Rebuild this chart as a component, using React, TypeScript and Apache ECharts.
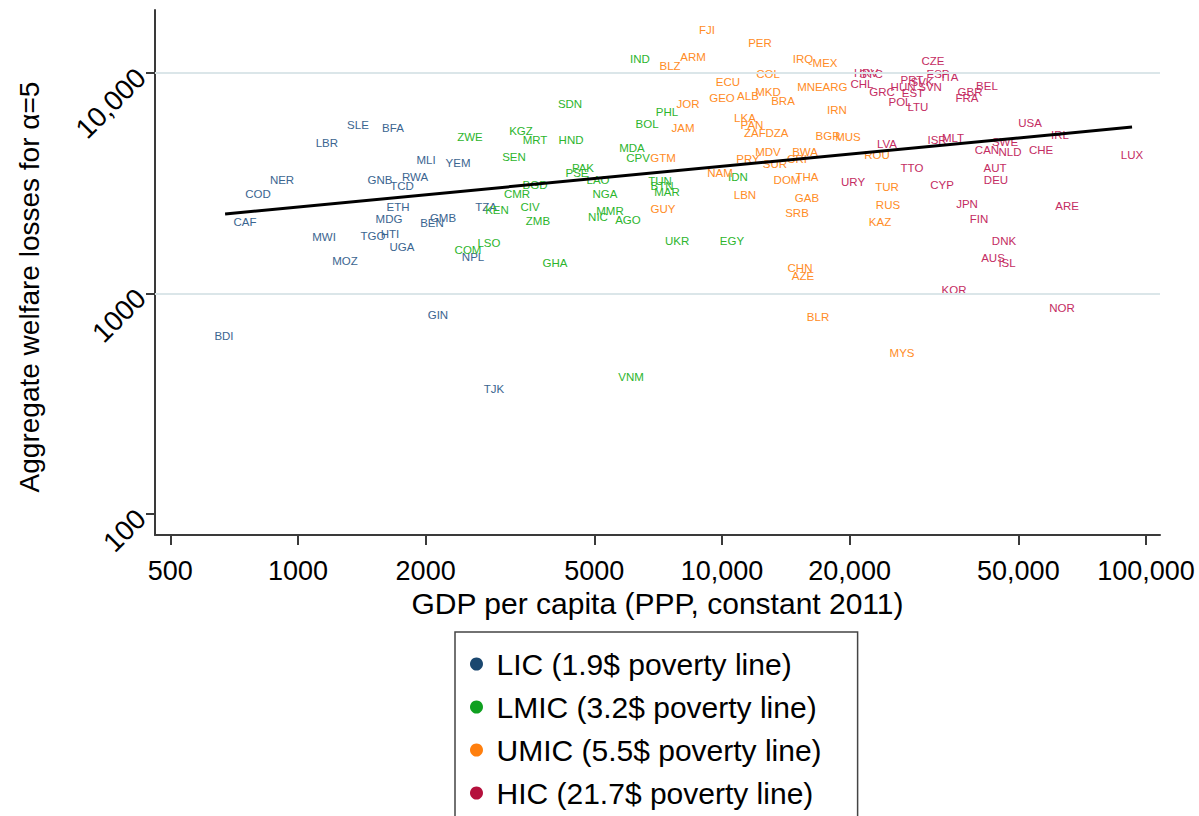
import React, { useEffect, useRef } from "react";
import * as echarts from "echarts";

const FONT = "'Liberation Sans', Arial, Helvetica, sans-serif";

// Income groups
const groupNames = [
  "LIC (1.9$ poverty line)",
  "LMIC (3.2$ poverty line)",
  "UMIC (5.5$ poverty line)",
  "HIC (21.7$ poverty line)",
];
const dotColors = ["#1a476f", "#0fa020", "#ff7f0e", "#b5103c"];
const labelColors = ["#3b6590", "#2db52d", "#ff8c26", "#c42c62"];

// LIC
const licNames = ["BDI", "CAF", "COD", "NER", "LBR", "SLE", "BFA", "MWI", "MOZ", "GNB", "RWA", "TCD", "MLI", "YEM", "ETH", "MDG", "TGO", "HTI", "UGA", "BEN", "GMB", "GIN", "TJK", "TZA", "NPL"];
const licGdp = [669, 750, 805, 917, 1170, 1385, 1675, 1152, 1291, 1561, 1888, 1759, 2004, 2385, 1721, 1639, 1503, 1648, 1759, 2070, 2198, 2138, 2900, 2776, 2587];
const licLoss = [641, 2110, 2826, 3272, 4815, 5808, 5630, 1804, 1404, 3272, 3374, 3073, 4032, 3907, 2468, 2177, 1823, 1861, 1625, 2088, 2200, 799, 369, 2468, 1464];

// LMIC
const lmicNames = ["COM", "LSO", "ZWE", "KGZ", "MRT", "SEN", "HND", "SDN", "CMR", "KEN", "CIV", "ZMB", "GHA", "BGD", "PAK", "PSE", "LAO", "NGA", "MMR", "NIC", "AGO", "MDA", "CPV", "BOL", "PHL", "IND", "EGY", "UKR", "MAR", "TUN", "BTN", "IDN", "VNM"];
const lmicGdp = [2518, 2821, 2545, 3357, 3623, 3232, 4405, 4381, 3285, 2947, 3526, 3681, 4038, 3623, 4700, 4550, 5100, 5296, 5442, 5100, 6001, 6133, 6337, 6655, 7418, 6406, 10558, 7834, 7418, 7142, 7219, 10907, 6101];
const lmicLoss = [1575, 1694, 5127, 5457, 4968, 4159, 4968, 7234, 2826, 2391, 2468, 2132, 1375, 3105, 3708, 3519, 3272, 2826, 2366, 2223, 2154, 4569, 4117, 5871, 6655, 11575, 1730, 1730, 2886, 3237, 3073, 3376, 418];

// UMIC
const umicNames = ["FJI", "PER", "ARM", "BLZ", "IRQ", "MEX", "COL", "ECU", "GEO", "ALB", "MKD", "BRA", "MNE", "ARG", "IRN", "JOR", "JAM", "LKA", "PAN", "ZAF", "DZA", "GTM", "GUY", "LBN", "MDV", "PRY", "SUR", "BWA", "CRI", "DOM", "THA", "GAB", "SRB", "BGR", "MUS", "ROU", "TUR", "RUS", "KAZ", "CHN", "AZE", "BLR", "MYS", "NAM"];
const umicGdp = [9218, 12291, 8543, 7541, 15524, 17500, 12837, 10332, 10000, 11514, 12837, 13929, 16126, 18473, 18674, 8314, 8091, 11329, 11770, 11960, 13483, 7259, 7259, 11329, 12837, 11514, 13335, 15697, 15030, 14234, 15867, 15867, 15030, 17783, 19823, 23212, 24501, 24635, 23590, 15276, 15524, 16844, 26583, 9892];
const umicLoss = [15668, 13679, 11817, 10758, 11575, 11100, 9896, 9103, 7702, 7865, 8200, 7464, 8641, 8641, 6796, 7234, 5630, 6251, 5809, 5345, 5345, 4117, 2416, 2797, 4381, 4074, 3867, 4381, 4074, 3272, 3376, 2711, 2318, 5181, 5127, 4247, 3041, 2520, 2110, 1305, 1201, 782, 537, 3519];

// HIC
const hicNames = ["LVA", "URY", "KOR", "NOR", "CZE", "ESP", "ITA", "HRV", "SYC", "CHL", "GRC", "PRT", "SVK", "HUN", "SVN", "EST", "POL", "LTU", "GBR", "BEL", "FRA", "ISR", "MLT", "SWE", "CAN", "NLD", "USA", "IRL", "CHE", "LUX", "TTO", "AUT", "DEU", "CYP", "ARE", "JPN", "FIN", "DNK", "AUS", "ISL"];
const hicGdp = [24501, 20370, 35260, 63390, 31450, 32320, 34490, 21860, 22460, 21390, 23850, 28060, 29630, 26730, 30950, 28210, 26290, 28990, 38450, 42170, 37830, 32150, 35060, 46500, 42170, 47770, 53270, 62700, 56550, 92700, 28060, 44050, 44280, 33030, 65130, 37830, 40380, 46250, 43570, 47010];
const hicLoss = [4764, 3204, 1037, 859, 11336, 9896, 9591, 10000, 9896, 8916, 8200, 9296, 9103, 8641, 8641, 8115, 7387, 7013, 8200, 8730, 7702, 4968, 5073, 4866, 4475, 4381, 5932, 5234, 4475, 4247, 3708, 3708, 3272, 3105, 2494, 2546, 2177, 1730, 1449, 1375];

// Fitted line (log-log)
const trendGdp = [673, 92700];
const trendLoss = [2294, 5690];

// Axes
const xTickValues = [500, 1000, 2000, 5000, 10000, 20000, 50000, 100000];
const yTickValues = [100, 1000, 10000];
const gridLineValues = [1000, 10000];
const xRange = [460, 107900];
const yRange = [80.3, 19310];

const xTitle = "GDP per capita (PPP, constant 2011)";
const yTitle = "Aggregate welfare losses for α=5";

const lg = (v: number) => Math.log10(v);
const fmtTick = (v: number) => {
  const r = Math.round(Math.pow(10, v));
  return r >= 10000 ? String(r).replace(/\B(?=(\d{3})+(?!\d))/g, ",") : String(r);
};

const groups = [
  { names: licNames, gdp: licGdp, loss: licLoss },
  { names: lmicNames, gdp: lmicGdp, loss: lmicLoss },
  { names: umicNames, gdp: umicGdp, loss: umicLoss },
  { names: hicNames, gdp: hicGdp, loss: hicLoss },
];

export default function App() {
  const ref = useRef<HTMLDivElement>(null);
  useEffect(() => {
    document.body.style.margin = "0";
    const chart = echarts.init(ref.current!, null, { renderer: "svg" });
    const axisColor = "#3a3a3a";
    const scatterSeries = groups.map((g, i) => ({
      type: "scatter",
      name: groupNames[i],
      symbolSize: 0,
      itemStyle: { color: dotColors[i], opacity: 1 },
      z: 3,
      label: {
        show: true,
        position: "inside",
        formatter: "{b}",
        color: labelColors[i],
        fontSize: 11.5,
        fontFamily: FONT,
      },
      emphasis: { disabled: true },
      data: g.names.map((n, k) => ({ name: n, value: [lg(g.gdp[k]), lg(g.loss[k])] })),
    }));
    const option: any = {
      animation: false,
      backgroundColor: "#ffffff",
      grid: { left: 155, right: 39, top: 10, bottom: 281, containLabel: false },
      xAxis: {
        type: "value",
        min: lg(xRange[0]),
        max: lg(xRange[1]),
        name: xTitle,
        nameLocation: "middle",
        nameGap: 48,
        nameTextStyle: { fontSize: 30, color: "#000", fontFamily: FONT },
        axisLine: { show: true, onZero: false, lineStyle: { color: axisColor, width: 2 } },
        axisTick: { show: true, length: 10, lineStyle: { color: axisColor, width: 2 }, customValues: xTickValues.map(lg) },
        axisLabel: { customValues: xTickValues.map(lg), formatter: fmtTick, fontSize: 27, color: "#000", margin: 22, fontFamily: FONT },
        splitLine: { show: false },
      },
      yAxis: {
        type: "value",
        min: lg(yRange[0]),
        max: lg(yRange[1]),
        axisLine: { show: true, onZero: false, lineStyle: { color: axisColor, width: 2 } },
        axisTick: { show: true, length: 9, lineStyle: { color: axisColor, width: 2 }, customValues: yTickValues.map(lg) },
        axisLabel: { customValues: yTickValues.map(lg), formatter: fmtTick, fontSize: 28, color: "#000", margin: 14, rotate: 45, fontFamily: FONT },
        splitLine: { show: false },
      },
      legend: {
        orient: "vertical",
        left: 455,
        top: 632,
        height: 320,
        selectedMode: false,
        data: groupNames.map((n, i) => ({ name: n, icon: "circle", itemStyle: { color: dotColors[i], opacity: 1 } })),
        itemWidth: 30,
        itemHeight: 13,
        itemGap: 13,
        padding: [17, 36, 20, 15],
        borderColor: "#444",
        borderWidth: 1.5,
        backgroundColor: "#fff",
        textStyle: { fontSize: 30, color: "#000", fontFamily: FONT },
      },
      graphic: [
        {
          type: "text",
          x: 29,
          y: 287,
          rotation: Math.PI / 2,
          style: { text: yTitle, fontSize: 28, fontFamily: FONT, fill: "#000", align: "center", verticalAlign: "middle" },
        },
      ],
      series: [
        {
          type: "line",
          name: "grid",
          data: [],
          z: 1,
          silent: true,
          markLine: {
            silent: true,
            symbol: ["none", "none"],
            label: { show: false },
            lineStyle: { color: "#dbe6e9", width: 2, type: "solid" },
            data: gridLineValues.map((v) => ({ yAxis: lg(v) })),
          },
        },
        ...scatterSeries,
        {
          type: "line",
          name: "Fitted values",
          z: 5,
          silent: true,
          showSymbol: false,
          lineStyle: { color: "#000", width: 3 },
          data: trendGdp.map((x, k) => [lg(x), lg(trendLoss[k])]),
        },
      ],
    };
    chart.setOption(option);
    return () => chart.dispose();
  }, []);
  return <div ref={ref} style={{ position: "fixed", left: 0, top: 0, width: 1199, height: 816 }} />;
}
